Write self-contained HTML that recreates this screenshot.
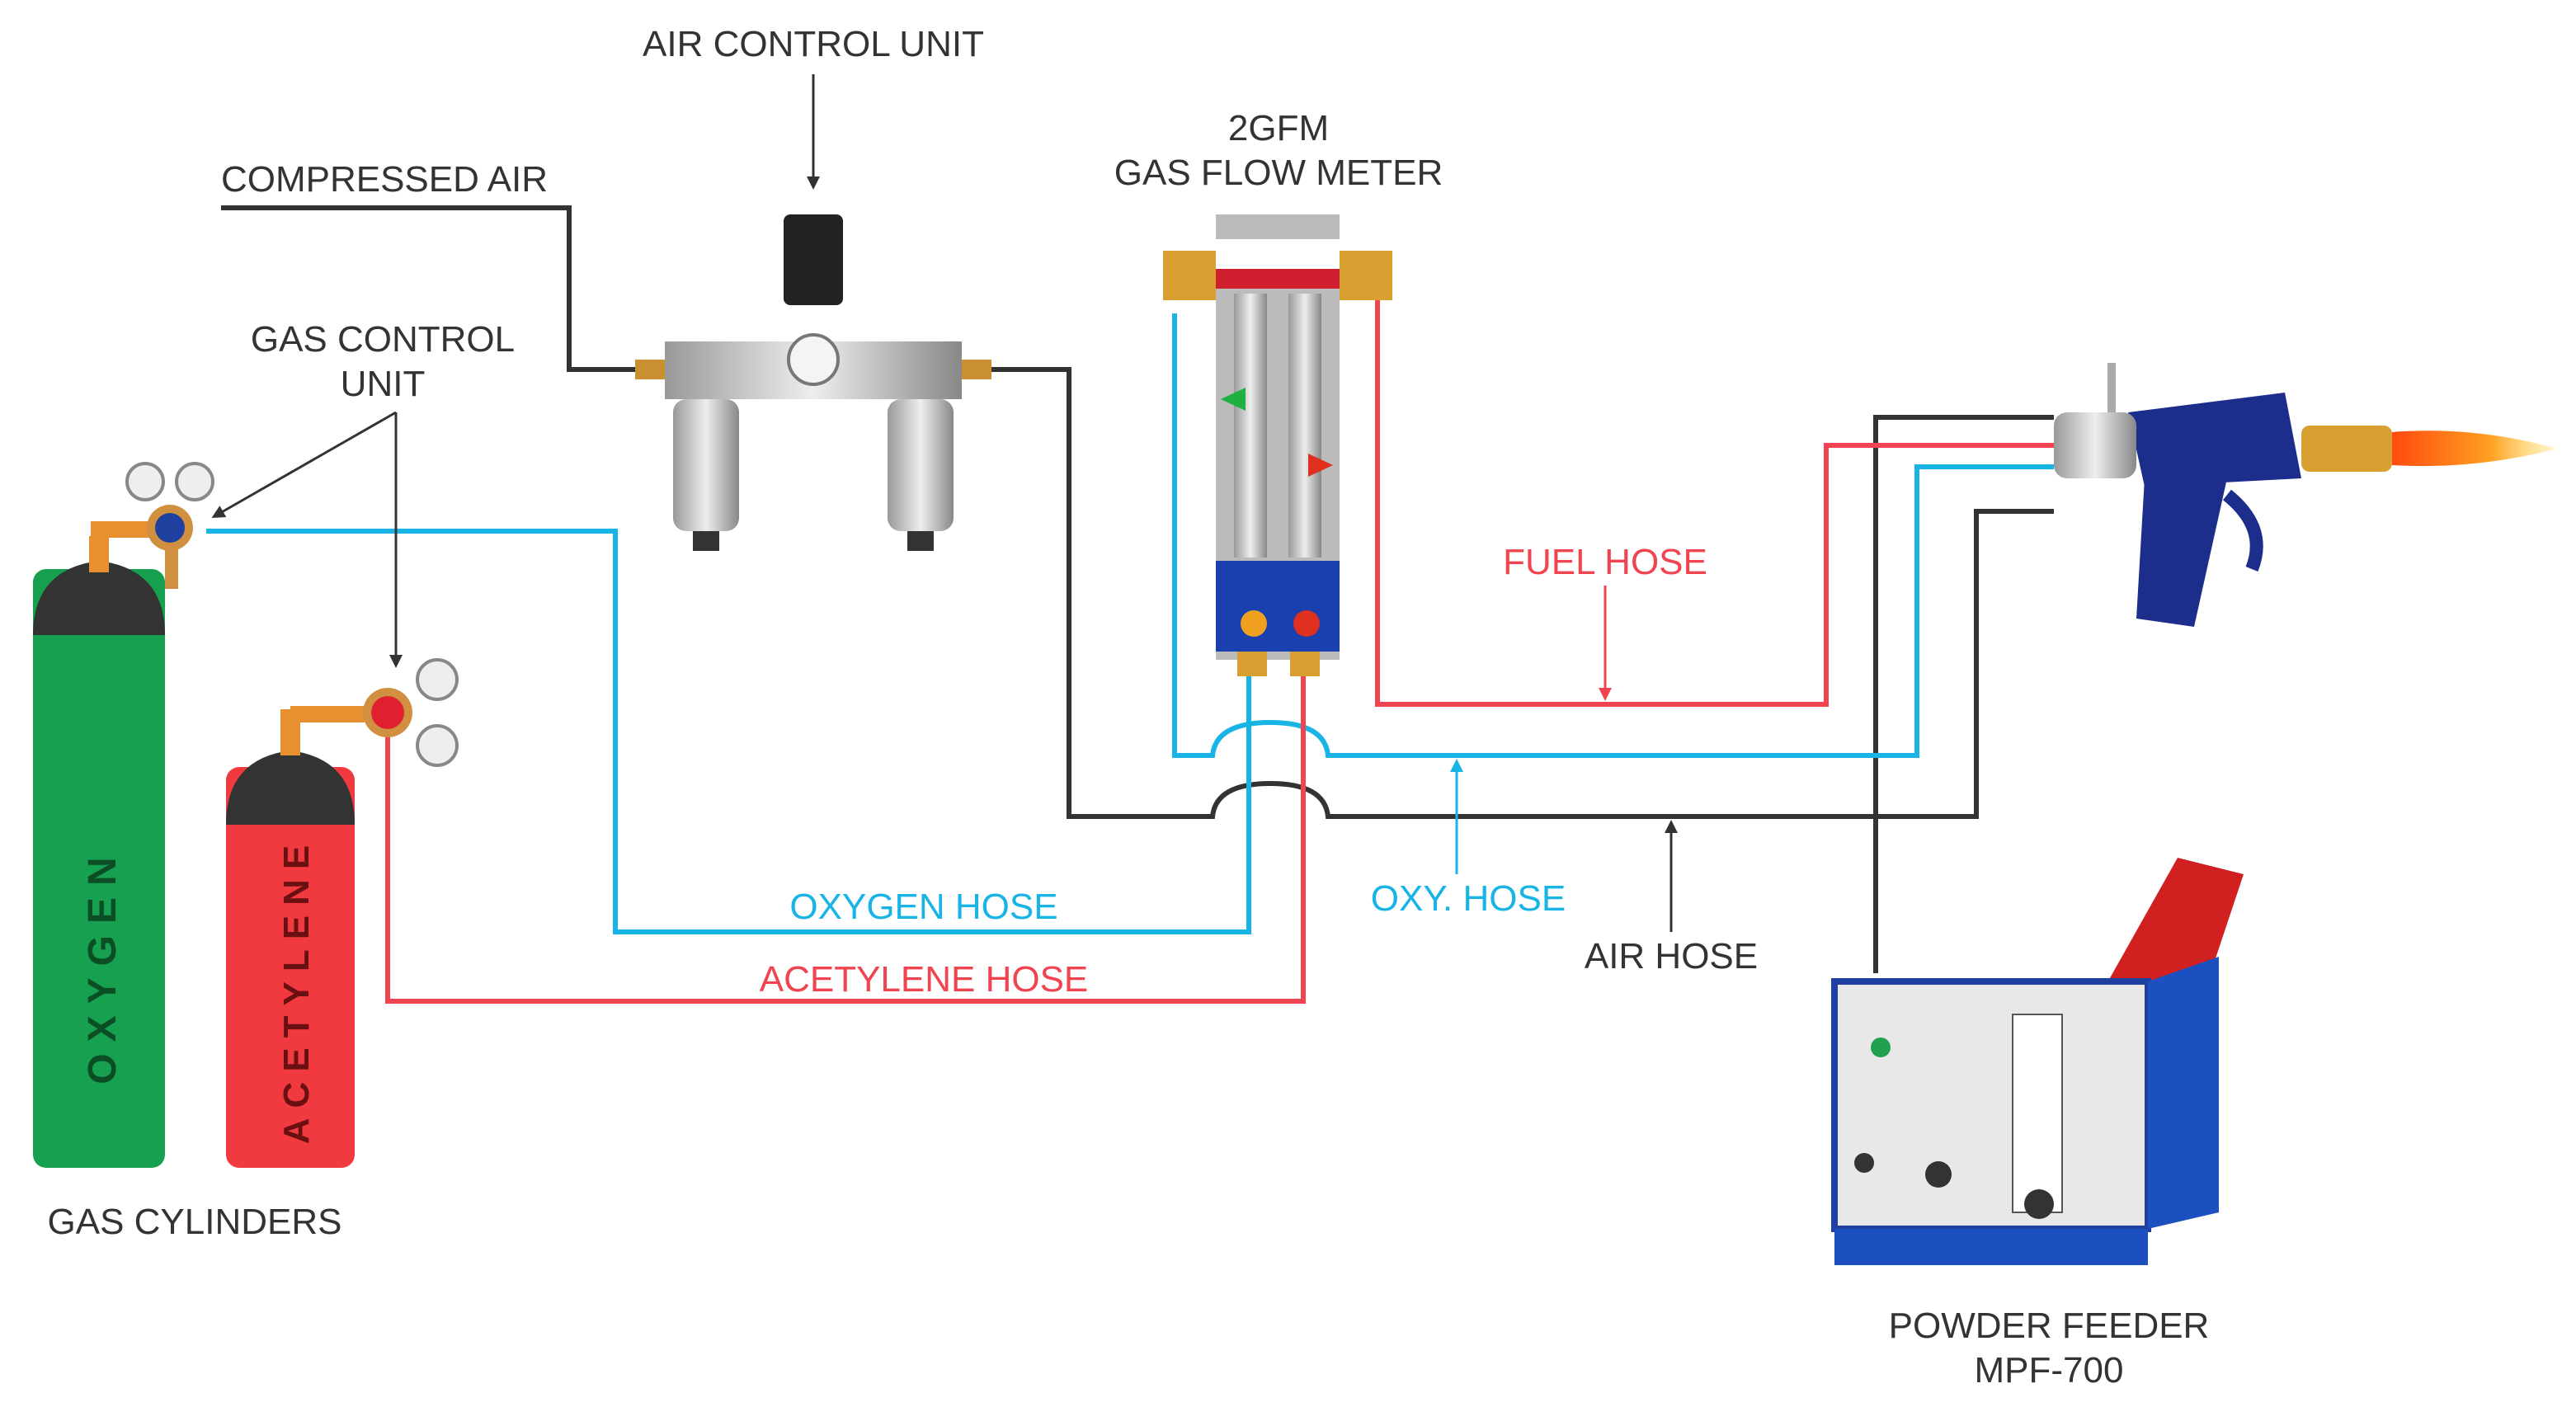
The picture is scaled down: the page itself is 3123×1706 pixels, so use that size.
<!DOCTYPE html>
<html><head><meta charset="utf-8"><style>
html,body{margin:0;padding:0;background:#fff;}
svg{display:block;}
text{font-family:"Liberation Sans",sans-serif;}
</style></head><body>
<svg width="3123" height="1706" viewBox="0 0 1561.5 853" xmlns="http://www.w3.org/2000/svg">
<defs>
<marker id="ar" markerWidth="8" markerHeight="8" refX="6" refY="4" orient="auto" markerUnits="userSpaceOnUse"><path d="M0,0 L8,4 L0,8 z" fill="#333"/></marker>
<marker id="arr" markerWidth="8" markerHeight="8" refX="6" refY="4" orient="auto" markerUnits="userSpaceOnUse"><path d="M0,0 L8,4 L0,8 z" fill="#f04550"/></marker>
<marker id="arb" markerWidth="8" markerHeight="8" refX="6" refY="4" orient="auto" markerUnits="userSpaceOnUse"><path d="M0,0 L8,4 L0,8 z" fill="#18b4e6"/></marker>
<linearGradient id="fl" x1="0" x2="1"><stop offset="0" stop-color="#ff4a10"/><stop offset="0.6" stop-color="#ffa020"/><stop offset="1" stop-color="#ffe060" stop-opacity="0.3"/></linearGradient>
<linearGradient id="met" x1="0" x2="1"><stop offset="0" stop-color="#999"/><stop offset="0.5" stop-color="#eee"/><stop offset="1" stop-color="#888"/></linearGradient>
</defs>

<g fill="none" stroke-width="3">
<path d="M134,126 H345 V224 H395" stroke="#333"/>
<path d="M595,224 H648 V495 H735 Q737,475 770,475 Q803,475 805,495 H1198 V310 H1245" stroke="#333"/>
<path d="M1137,590 V253 H1245" stroke="#333"/>
<path d="M125,322 H373 V565 H757 V410" stroke="#18b4e6"/>
<path d="M712,190 V458 H735 Q737,438 770,438 Q803,438 805,458 H1162 V283 H1245" stroke="#18b4e6"/>
<path d="M235,440 V607 H790 V410" stroke="#f04550"/>
<path d="M835,165 V427 H1107 V270 H1245" stroke="#f04550"/>
</g>

<g stroke-width="1.5" fill="none">
<line x1="493" y1="45" x2="493" y2="113" stroke="#333" marker-end="url(#ar)"/>
<line x1="240" y1="250" x2="130" y2="313" stroke="#333" marker-end="url(#ar)"/>
<line x1="240" y1="250" x2="240" y2="403" stroke="#333" marker-end="url(#ar)"/>
<line x1="973" y1="355" x2="973" y2="423" stroke="#f04550" marker-end="url(#arr)"/>
<line x1="883" y1="530" x2="883" y2="462" stroke="#18b4e6" marker-end="url(#arb)"/>
<line x1="1013" y1="565" x2="1013" y2="499" stroke="#333" marker-end="url(#ar)"/>
</g>

<g font-size="22" text-anchor="middle" fill="#333">
<text x="493" y="34">AIR CONTROL UNIT</text>
<text x="233" y="116">COMPRESSED AIR</text>
<text x="775" y="85">2GFM</text>
<text x="775" y="112">GAS FLOW METER</text>
<text x="232" y="213">GAS CONTROL</text>
<text x="232" y="240">UNIT</text>
<text x="118" y="748">GAS CYLINDERS</text>
<text x="1013" y="587">AIR HOSE</text>
<text x="1242" y="811">POWDER FEEDER</text>
<text x="1242" y="838">MPF-700</text>
<text x="973" y="348" fill="#f04550">FUEL HOSE</text>
<text x="890" y="552" fill="#18b4e6">OXY. HOSE</text>
<text x="560" y="557" fill="#18b4e6">OXYGEN HOSE</text>
<text x="560" y="601" fill="#f04550">ACETYLENE HOSE</text>
</g>

<rect x="20" y="345" width="80" height="363" rx="8" fill="#17a050"/>
<path d="M20,385 Q20,345 60,340 Q100,345 100,385 Z" fill="#333"/>
<rect x="54" y="325" width="12" height="22" fill="#e89030"/>
<text transform="translate(70,585) rotate(-90)" font-size="24" font-weight="bold" letter-spacing="7" text-anchor="middle" fill="#0b4d25">OXYGEN</text>
<rect x="137" y="465" width="78" height="243" rx="8" fill="#f03a40"/>
<path d="M137,500 Q137,460 176,455 Q215,460 215,500 Z" fill="#333"/>
<rect x="170" y="430" width="12" height="28" fill="#e89030"/>
<text transform="translate(187,600) rotate(-90)" font-size="22" font-weight="bold" letter-spacing="6" text-anchor="middle" fill="#6a1010">ACETYLENE</text>

<rect x="55" y="316" width="45" height="10" fill="#e89030"/>
<circle cx="103" cy="320" r="14" fill="#d09040"/><circle cx="103" cy="320" r="9" fill="#2040a0"/>
<circle cx="88" cy="292" r="11" fill="#eee" stroke="#888" stroke-width="2"/>
<circle cx="118" cy="292" r="11" fill="#eee" stroke="#888" stroke-width="2"/>
<rect x="100" y="332" width="8" height="25" fill="#d09040"/>
<rect x="176" y="428" width="45" height="10" fill="#e89030"/>
<circle cx="235" cy="432" r="15" fill="#d09040"/><circle cx="235" cy="432" r="10" fill="#e02030"/>
<circle cx="265" cy="412" r="12" fill="#eee" stroke="#888" stroke-width="2"/>
<circle cx="265" cy="452" r="12" fill="#eee" stroke="#888" stroke-width="2"/>

<rect x="475" y="130" width="36" height="55" rx="4" fill="#222"/>
<rect x="403" y="207" width="180" height="35" fill="url(#met)"/>
<rect x="385" y="218" width="18" height="12" fill="#c89030"/>
<rect x="583" y="218" width="18" height="12" fill="#c89030"/>
<circle cx="493" cy="218" r="15" fill="#f4f4f4" stroke="#777" stroke-width="2"/>
<rect x="408" y="242" width="40" height="80" rx="8" fill="url(#met)"/>
<rect x="538" y="242" width="40" height="80" rx="8" fill="url(#met)"/>
<rect x="420" y="322" width="16" height="12" fill="#333"/>
<rect x="550" y="322" width="16" height="12" fill="#333"/>

<rect x="737" y="130" width="75" height="270" fill="#bbb"/>
<rect x="737" y="145" width="75" height="30" fill="#fff"/>
<rect x="737" y="163" width="75" height="12" fill="#d02030"/>
<rect x="748" y="178" width="20" height="160" fill="url(#met)"/>
<rect x="781" y="178" width="20" height="160" fill="url(#met)"/>
<rect x="737" y="340" width="75" height="55" fill="#1a40b0"/>
<circle cx="760" cy="378" r="8" fill="#f0a020"/><circle cx="792" cy="378" r="8" fill="#e03020"/>
<rect x="705" y="152" width="32" height="30" fill="#d8a030"/>
<rect x="812" y="152" width="32" height="30" fill="#d8a030"/>
<rect x="750" y="395" width="18" height="15" fill="#d8a030"/>
<rect x="782" y="395" width="18" height="15" fill="#d8a030"/>
<path d="M740,242 l15,-7 v14 z" fill="#20b040"/><path d="M808,282 l-15,-7 v14 z" fill="#e03020"/>

<path d="M1450,262 Q1500,258 1550,272 Q1500,285 1450,282 Z" fill="url(#fl)"/>
<rect x="1395" y="258" width="55" height="28" rx="5" fill="#d8a030"/>
<path d="M1290,250 L1385,238 L1395,290 L1300,295 Z" fill="#1c2d8c"/>
<path d="M1300,290 L1350,290 L1330,380 L1295,375 Z" fill="#1c2d8c"/>
<path d="M1350,300 Q1375,320 1365,345" stroke="#1c2d8c" stroke-width="8" fill="none"/>
<rect x="1245" y="250" width="50" height="40" rx="8" fill="url(#met)"/>
<line x1="1280" y1="250" x2="1280" y2="220" stroke="#aaa" stroke-width="5"/>

<path d="M1275,600 L1320,520 L1360,530 L1330,620 Z" fill="#d02020"/>
<rect x="1112" y="595" width="190" height="150" fill="#e8e8e8" stroke="#2040a0" stroke-width="4"/>
<path d="M1302,595 L1345,580 L1345,735 L1302,745 Z" fill="#1c50c0"/>
<rect x="1112" y="745" width="190" height="22" fill="#1c50c0"/>
<rect x="1220" y="615" width="30" height="120" fill="#fff" stroke="#555"/>
<circle cx="1140" cy="635" r="6" fill="#20a050"/>
<circle cx="1130" cy="705" r="6" fill="#333"/><circle cx="1175" cy="712" r="8" fill="#333"/><circle cx="1236" cy="730" r="9" fill="#333"/>
</svg>
</body></html>
